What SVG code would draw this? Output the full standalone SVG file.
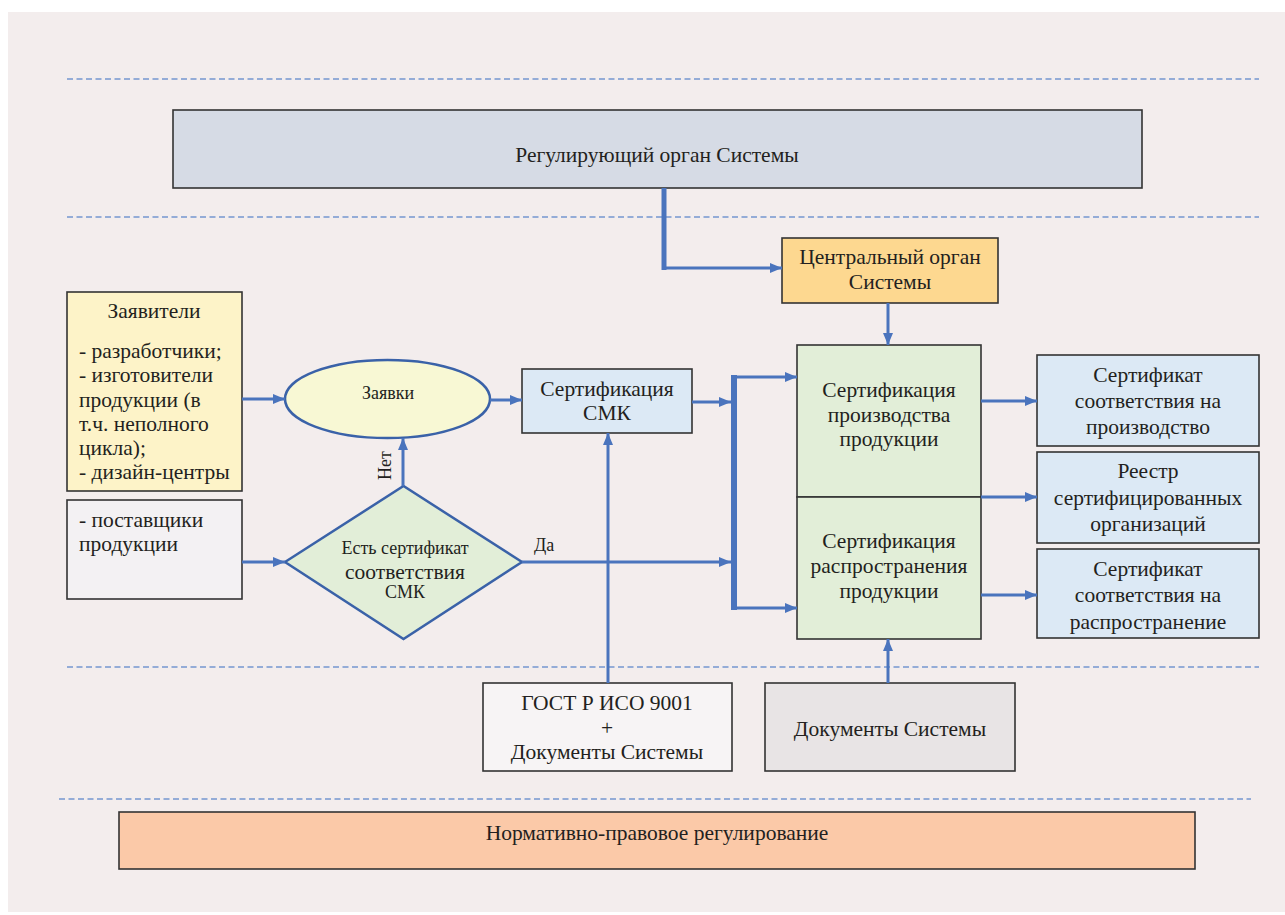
<svg xmlns="http://www.w3.org/2000/svg" width="1285" height="915" viewBox="0 0 1285 915">
<defs>
<marker id="arr" markerUnits="userSpaceOnUse" markerWidth="12" markerHeight="10" refX="12" refY="5" orient="auto">
<path d="M0,0 L12,5 L0,10 z" fill="#4a74bd"/>
</marker>
<style>
.box{stroke:#333;stroke-width:1.6}
.t{font-family:'Liberation Serif','DejaVu Serif',serif;font-size:21.5px;fill:#231f20}
.c{text-anchor:middle}
.s{font-size:18px}
.dash{stroke:#7596d0;stroke-width:1.5;stroke-dasharray:6 3.5;fill:none}
.cn{stroke:#4a74bd;stroke-width:3;fill:none}
.shape{stroke:#3a62a8;stroke-width:2.5}
</style>
</defs>
<rect x="0" y="0" width="1285" height="915" fill="#ffffff"/>
<rect x="8" y="12" width="1277" height="900" fill="#f3eded"/>

<g id="dashes">
<line class="dash" x1="67" y1="79" x2="1259" y2="79"/>
<line class="dash" x1="67" y1="217" x2="1259" y2="217"/>
<line class="dash" x1="67" y1="667" x2="1259" y2="667"/>
<line class="dash" x1="59" y1="799" x2="1251" y2="799"/>
</g>

<g id="regulator">
<rect class="box" x="173" y="110" width="969" height="78" fill="#d6dbe5"/>
<text class="t c" x="657" y="162">Регулирующий орган Системы</text>
</g>

<g id="central">
<rect class="box" x="782" y="238" width="216" height="65" fill="#fdd890"/>
<text class="t c" x="890" y="264">Центральный орган</text>
<text class="t c" x="890" y="289">Системы</text>
</g>

<g id="applicants">
<rect class="box" x="67" y="292" width="175" height="199" fill="#fdf3c8"/>
<text class="t c" x="154" y="318">Заявители</text>
<text class="t" x="79" y="358">- разработчики;</text>
<text class="t" x="79" y="382">- изготовители</text>
<text class="t" x="79" y="407">продукции (в</text>
<text class="t" x="79" y="431">т.ч. неполного</text>
<text class="t" x="79" y="455">цикла);</text>
<text class="t" x="79" y="479">- дизайн-центры</text>
</g>

<g id="suppliers">
<rect class="box" x="67" y="500" width="175" height="99" fill="#f3f1f3"/>
<text class="t" x="79" y="527">- поставщики</text>
<text class="t" x="79" y="551">продукции</text>
</g>

<g id="requests">
<ellipse class="shape" cx="387.5" cy="399" rx="102.5" ry="39" fill="#f8f8d4"/>
<text class="t c s" x="388" y="399">Заявки</text>
</g>

<g id="decision">
<polygon class="shape" points="285,562 403.5,486 522,562 403.5,639" fill="#e2eed8"/>
<text class="t c s" x="405" y="554">Есть сертификат</text>
<text class="t c" x="405" y="579">соответствия</text>
<text class="t c s" x="405" y="598">СМК</text>
</g>

<g id="smk">
<rect class="box" x="522" y="369" width="170" height="64" fill="#dce9f5"/>
<text class="t c" x="607" y="396">Сертификация</text>
<text class="t c" x="607" y="420">СМК</text>
</g>

<g id="prodcert">
<rect class="box" x="797" y="345" width="184" height="152" fill="#e2eed8"/>
<text class="t c" x="889" y="397">Сертификация</text>
<text class="t c" x="889" y="422">производства</text>
<text class="t c" x="889" y="446">продукции</text>
</g>

<g id="distcert">
<rect class="box" x="797" y="497" width="184" height="142" fill="#e2eed8"/>
<text class="t c" x="889" y="548">Сертификация</text>
<text class="t c" x="889" y="573">распространения</text>
<text class="t c" x="889" y="598">продукции</text>
</g>

<g id="cert1">
<rect class="box" x="1037" y="355" width="222" height="91" fill="#dce9f5"/>
<text class="t c" x="1148" y="382">Сертификат</text>
<text class="t c" x="1148" y="408">соответствия на</text>
<text class="t c" x="1148" y="434">производство</text>
</g>

<g id="registry">
<rect class="box" x="1037" y="452" width="222" height="91" fill="#dce9f5"/>
<text class="t c" x="1148" y="478">Реестр</text>
<text class="t c" x="1148" y="505">сертифицированных</text>
<text class="t c" x="1148" y="531">организаций</text>
</g>

<g id="cert2">
<rect class="box" x="1037" y="549" width="222" height="89" fill="#dce9f5"/>
<text class="t c" x="1148" y="576">Сертификат</text>
<text class="t c" x="1148" y="602">соответствия на</text>
<text class="t c" x="1148" y="629">распространение</text>
</g>

<g id="gost">
<rect class="box" x="483" y="683" width="249" height="88" fill="#f7f4f5"/>
<text class="t c" x="607" y="710">ГОСТ Р ИСО 9001</text>
<text class="t c" x="607" y="735">+</text>
<text class="t c" x="607" y="759">Документы Системы</text>
</g>

<g id="docs">
<rect class="box" x="765" y="683" width="250" height="88" fill="#e8e4e5"/>
<text class="t c" x="890" y="736">Документы Системы</text>
</g>

<g id="legal">
<rect class="box" x="119" y="812" width="1076" height="57" fill="#fbc9a8"/>
<text class="t c" x="657" y="840">Нормативно-правовое регулирование</text>
</g>

<g id="connectors">
<line class="cn" x1="664" y1="188" x2="664" y2="270" style="stroke-width:5"/>
<path class="cn" d="M662,268 H782" marker-end="url(#arr)"/>
<path class="cn" d="M888,303 V345" marker-end="url(#arr)"/>
<path class="cn" d="M242,399 H285" marker-end="url(#arr)"/>
<path class="cn" d="M242,562 H285" marker-end="url(#arr)"/>
<path class="cn" d="M490,400 H522" marker-end="url(#arr)"/>
<path class="cn" d="M403,486 V438" marker-end="url(#arr)"/>
<path class="cn" d="M522,562 H731" marker-end="url(#arr)"/>
<path class="cn" d="M692,402 H731" marker-end="url(#arr)"/>
<line class="cn" x1="734" y1="375" x2="734" y2="610" style="stroke-width:6"/>
<path class="cn" d="M734,377 H797" marker-end="url(#arr)"/>
<path class="cn" d="M734,608 H797" marker-end="url(#arr)"/>
<path class="cn" d="M608,683 V433" marker-end="url(#arr)"/>
<path class="cn" d="M888,683 V639" marker-end="url(#arr)"/>
<path class="cn" d="M981,401 H1037" marker-end="url(#arr)"/>
<path class="cn" d="M981,497 H1037" marker-end="url(#arr)"/>
<path class="cn" d="M981,595 H1037" marker-end="url(#arr)"/>
<text class="t s" x="0" y="0" transform="translate(391,480) rotate(-90)">Нет</text>
<text class="t s" x="534" y="551">Да</text>
</g>
</svg>
